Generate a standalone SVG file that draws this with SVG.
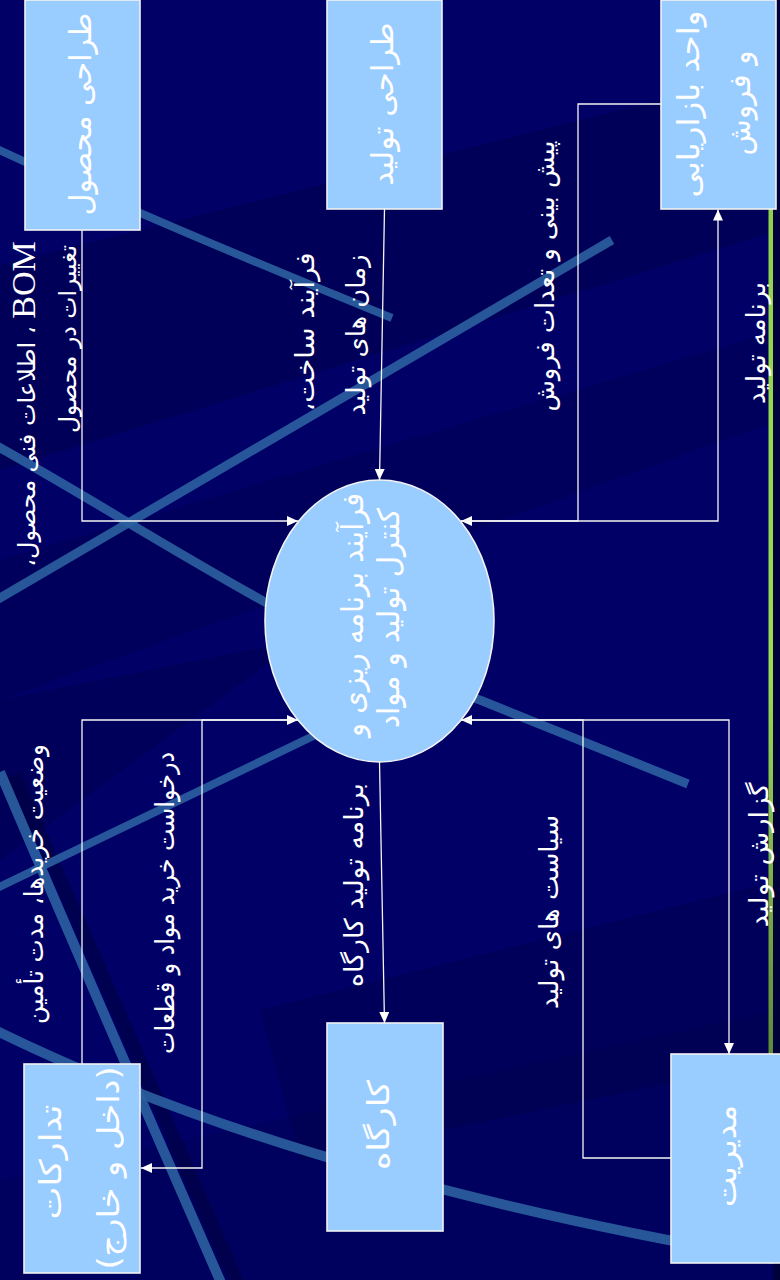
<svg xmlns="http://www.w3.org/2000/svg" width="780" height="1280" viewBox="0 0 780 1280">
<defs>
<style>
.bg{fill:#000066}
.stripe{fill:none;stroke:#2A5E9E;stroke-linecap:butt;opacity:0.92}
.box{fill:#99CCFF;stroke:#F2F2F2;stroke-width:1.6}
.conn{fill:none;stroke:#F4F4F4;stroke-width:1.3}
.t{fill:#FFFFFF;font-family:"DejaVu Sans","Noto Sans",sans-serif;direction:rtl;unicode-bidi:embed;text-anchor:middle}
.n{font-size:30px}
.l{font-size:26px}
.lb{font-size:24px}
.lat{font-family:"Liberation Serif","DejaVu Serif",serif}
</style>
<marker id="arr" markerWidth="12" markerHeight="10" refX="11" refY="5" orient="auto" markerUnits="userSpaceOnUse">
<path d="M0,0 L11,5 L0,10 Z" fill="#FFFFFF"/>
</marker>
<linearGradient id="green" x1="0" y1="0" x2="0" y2="1">
<stop offset="0" stop-color="#8FD14F"/>
<stop offset="0.55" stop-color="#9BDB55"/>
<stop offset="1" stop-color="#5E8A3A"/>
</linearGradient>
</defs>

<g id="background">
<rect class="bg" x="0" y="0" width="780" height="1280"/>
<polygon points="0,265 780,70 780,230 0,470" fill="#000040" opacity="0.35"/>
<polygon points="0,560 780,330 780,420 0,700" fill="#000040" opacity="0.25"/>
<polygon points="0,700 300,640 0,860" fill="#000040" opacity="0.3"/>
<polygon points="260,1010 780,880 780,1060 300,1160" fill="#000040" opacity="0.3"/>
<polygon points="0,1180 780,1010 780,1280 0,1280" fill="#000040" opacity="0.2"/>
<path class="stripe" d="M-5,148 Q150,220 392,318" stroke-width="8"/>
<path class="stripe" d="M-5,445 C140,525 330,655 480,700 L688,784" stroke-width="9"/>
<path class="stripe" d="M-5,601 L612,240" stroke-width="9"/>
<path d="M14,775 Q96,960 238,1285" fill="none" stroke="#00003A" stroke-width="14" opacity="0.5"/>
<path class="stripe" d="M0,772 Q80,960 222,1285" stroke-width="10"/>
<path class="stripe" d="M-5,889 L330,728" stroke-width="8"/>
<path class="stripe" d="M-5,1030 Q300,1180 790,1262" stroke-width="10"/>
<rect x="773" y="0" width="7" height="1280" fill="#00003A"/>
<rect x="768.5" y="209" width="4.5" height="845" fill="url(#green)"/>
</g>

<g id="connectors">
<polyline class="conn" points="82,230 82,521 298,521" marker-end="url(#arr)"/>
<line class="conn" x1="384.5" y1="209" x2="379.5" y2="480" marker-end="url(#arr)"/>
<polyline class="conn" points="661,104 578,104 578,521 461,521" marker-end="url(#arr)"/>
<polyline class="conn" points="461,521 718,521 718,209.5" marker-end="url(#arr)"/>
<polyline class="conn" points="82,1064 82,720 298,720" marker-end="url(#arr)"/>
<polyline class="conn" points="298,720 202,720 202,1168 141,1168" marker-end="url(#arr)"/>
<line class="conn" x1="379.5" y1="762" x2="384.5" y2="1023" marker-end="url(#arr)"/>
<polyline class="conn" points="671,1158 583,1158 583,720 461,720" marker-end="url(#arr)"/>
<polyline class="conn" points="461,720 729,720 729,1054" marker-end="url(#arr)"/>
</g>

<g id="labels">
<text class="t lb" transform="translate(35,404) rotate(-90)"><tspan class="lat" font-size="34">BOM</tspan> ، اطلاعات فنی محصول،</text>
<text class="t lb" transform="translate(76,339) rotate(-90)" textLength="188" lengthAdjust="spacingAndGlyphs">تغییرات در محصول</text>
<text class="t l" transform="translate(314,332) rotate(-90)" textLength="159" lengthAdjust="spacingAndGlyphs">فرآیند ساخت،</text>
<text class="t l" transform="translate(365,335) rotate(-90)" textLength="161" lengthAdjust="spacingAndGlyphs">زمان های تولید</text>
<text class="t l" transform="translate(554,276) rotate(-90)" textLength="271" lengthAdjust="spacingAndGlyphs">پیش بینی و تعدات فروش</text>
<text class="t l" transform="translate(765,343) rotate(-90)" textLength="122" lengthAdjust="spacingAndGlyphs">برنامه تولید</text>
<text class="t l" transform="translate(43,884) rotate(-90)" textLength="280" lengthAdjust="spacingAndGlyphs">وضعیت خریدها، مدت تأمین</text>
<text class="t l" transform="translate(174,903) rotate(-90)" textLength="302" lengthAdjust="spacingAndGlyphs">درخواست خرید مواد و قطعات</text>
<text class="t l" transform="translate(363,885) rotate(-90)" textLength="204" lengthAdjust="spacingAndGlyphs">برنامه تولید کارگاه</text>
<text class="t l" transform="translate(558,912) rotate(-90)" textLength="194" lengthAdjust="spacingAndGlyphs">سیاست های تولید</text>
<text class="t l" transform="translate(768,855) rotate(-90)" textLength="145" lengthAdjust="spacingAndGlyphs">گزارش تولید</text>
</g>

<g id="node-product-design">
<rect class="box" x="25" y="0" width="115" height="230"/>
<text class="t n" transform="translate(91,114) rotate(-90)" textLength="203" lengthAdjust="spacingAndGlyphs">طراحی محصول</text>
</g>
<g id="node-production-design">
<rect class="box" x="327" y="0" width="115" height="209"/>
<text class="t n" transform="translate(393,104) rotate(-90)" textLength="163" lengthAdjust="spacingAndGlyphs">طراحی تولید</text>
</g>
<g id="node-marketing">
<rect class="box" x="661" y="0" width="115" height="209"/>
<text class="t n" transform="translate(699,104) rotate(-90)" textLength="187" lengthAdjust="spacingAndGlyphs">واحد بازاریابی</text>
<text class="t n" transform="translate(750,103) rotate(-90)" textLength="105" lengthAdjust="spacingAndGlyphs">و فروش</text>
</g>
<g id="node-planning">
<ellipse class="box" cx="379.5" cy="621" rx="114.5" ry="141"/>
<text class="t n" transform="translate(363,615) rotate(-90)" textLength="244" lengthAdjust="spacingAndGlyphs">فرآیند برنامه ریزی و</text>
<text class="t n" transform="translate(399,618) rotate(-90)" textLength="220" lengthAdjust="spacingAndGlyphs">کنترل تولید و مواد</text>
</g>
<g id="node-procurement">
<rect class="box" x="24" y="1064" width="116" height="209"/>
<text class="t n" transform="translate(61,1162) rotate(-90)" textLength="115" lengthAdjust="spacingAndGlyphs">تدارکات</text>
<text class="t n" transform="translate(119,1168) rotate(-90)" textLength="203" lengthAdjust="spacingAndGlyphs">(داخل و خارج)</text>
</g>
<g id="node-workshop">
<rect class="box" x="327" y="1023" width="116" height="208"/>
<text class="t n" transform="translate(389,1125) rotate(-90)" textLength="90" lengthAdjust="spacingAndGlyphs">کارگاه</text>
</g>
<g id="node-management">
<rect class="box" x="671" y="1054" width="116" height="209"/>
<text class="t n" transform="translate(736,1156) rotate(-90)" textLength="102" lengthAdjust="spacingAndGlyphs">مدیریت</text>
</g>
</svg>
